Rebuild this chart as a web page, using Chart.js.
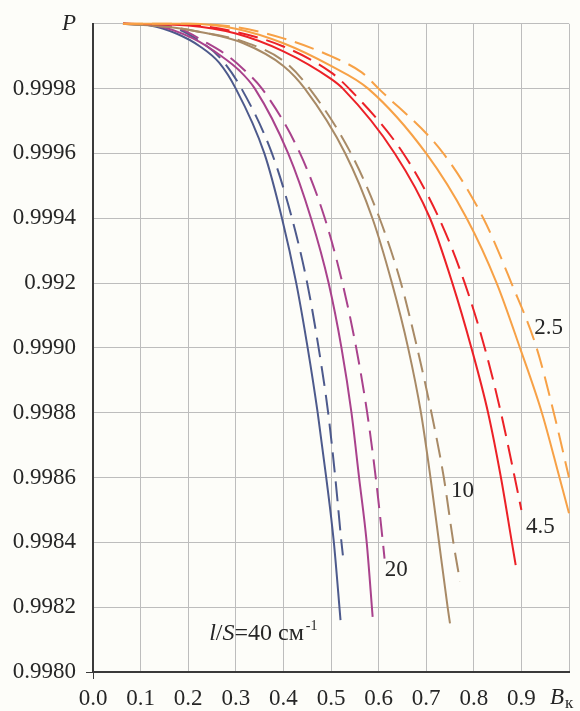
<!DOCTYPE html>
<html>
<head>
<meta charset="utf-8">
<script src="https://cdn.jsdelivr.net/npm/chart.js@4"></script>
<style>
  html, body { margin: 0; padding: 0; background: #fdfdf9; }
  canvas { display: block; }
</style>
</head>
<body>
<canvas id="chart" width="580" height="711"></canvas>
<script>
// Reliability P versus B_k for several l/S values (solid and dashed variants)
const xTickValues = [0, 0.1, 0.2, 0.3, 0.4, 0.5, 0.6, 0.7, 0.8, 0.9, 1.0];
const xTickLabels = ['0.0', '0.1', '0.2', '0.3', '0.4', '0.5', '0.6', '0.7', '0.8', '0.9', ''];
const yTickValues = [0.998, 0.9982, 0.9984, 0.9986, 0.9988, 0.999, 0.9992, 0.9994, 0.9996, 0.9998, 1.0];
const yTickLabels = ['0.9980', '0.9982', '0.9984', '0.9986', '0.9988', '0.9990', '0.992', '0.9994', '0.9996', '0.9998', 'P'];

// l/S = 40 cm^-1
const b40Solid = [0.063, 0.12, 0.175, 0.225, 0.265, 0.300, 0.360, 0.397, 0.427, 0.451, 0.472, 0.490, 0.506, 0.520];
const p40Solid = [1.0, 0.999995, 0.99997, 0.99993, 0.99988, 0.9998, 0.9996, 0.9994, 0.9992, 0.9990, 0.9988, 0.9986, 0.9984, 0.99816];
const b40Dash  = [0.063, 0.15, 0.231, 0.27, 0.312, 0.376, 0.418, 0.450, 0.474, 0.494, 0.509, 0.522, 0.525];
const p40Dash  = [1.0, 0.999995, 0.99994, 0.99989, 0.9998, 0.9996, 0.9994, 0.9992, 0.9990, 0.9988, 0.9986, 0.9984, 0.99836];
// l/S = 20
const b20Solid = [0.063, 0.13, 0.21, 0.27, 0.308, 0.340, 0.410, 0.458, 0.495, 0.522, 0.543, 0.559, 0.575, 0.5875];
const p20Solid = [1.0, 0.999995, 0.999955, 0.9999, 0.999855, 0.9998, 0.9996, 0.9994, 0.9992, 0.9990, 0.9988, 0.9986, 0.9984, 0.99817];
const b20Dash  = [0.063, 0.17, 0.24, 0.284, 0.316, 0.355, 0.435, 0.487, 0.524, 0.553, 0.576, 0.594, 0.609, 0.6125];
const p20Dash  = [1.0, 0.99999, 0.99994, 0.9999, 0.99986, 0.9998, 0.9996, 0.9994, 0.9992, 0.9990, 0.9988, 0.9986, 0.9984, 0.99835];
// l/S = 10
const b10Solid = [0.063, 0.16, 0.225, 0.316, 0.400, 0.445, 0.530, 0.587, 0.628, 0.662, 0.689, 0.709, 0.727, 0.745, 0.750];
const p10Solid = [1.0, 0.99999, 0.999975, 0.99994, 0.99987, 0.9998, 0.9996, 0.9994, 0.9992, 0.9990, 0.9988, 0.9986, 0.9984, 0.9982, 0.99815];
const b10Dash  = [0.063, 0.16, 0.225, 0.316, 0.405, 0.455, 0.542, 0.602, 0.647, 0.681, 0.711, 0.737, 0.757, 0.771];
const p10Dash  = [1.0, 0.99999, 0.999975, 0.999945, 0.99988, 0.9998, 0.9996, 0.9994, 0.9992, 0.9990, 0.9988, 0.9986, 0.9984, 0.99828];
// l/S = 4.5
const b45Solid = [0.063, 0.2, 0.3, 0.40, 0.50, 0.525, 0.634, 0.708, 0.755, 0.795, 0.830, 0.857, 0.880, 0.888];
const p45Solid = [1.0, 0.999995, 0.99997, 0.999915, 0.99983, 0.9998, 0.9996, 0.9994, 0.9992, 0.9990, 0.9988, 0.9986, 0.9984, 0.99833];
const b45Dash  = [0.063, 0.2, 0.3, 0.40, 0.50, 0.538, 0.652, 0.727, 0.781, 0.823, 0.857, 0.886, 0.900];
const p45Dash  = [1.0, 0.999997, 0.999975, 0.99993, 0.99985, 0.9998, 0.9996, 0.9994, 0.9992, 0.9990, 0.9988, 0.9986, 0.9985];
// l/S = 2.5
const b25Solid = [0.063, 0.2, 0.3, 0.4, 0.5, 0.578, 0.700, 0.785, 0.848, 0.897, 0.943, 0.980, 1.0];
const p25Solid = [1.0, 1.0, 0.999985, 0.99994, 0.99987, 0.9998, 0.9996, 0.9994, 0.9992, 0.9990, 0.9988, 0.9986, 0.99849];
const b25Dash  = [0.063, 0.2, 0.3, 0.4, 0.5, 0.5645, 0.600, 0.736, 0.820, 0.879, 0.932, 0.968, 1.0];
const p25Dash  = [1.0, 1.0, 0.99999, 0.999955, 0.9999, 0.99985, 0.9998, 0.9996, 0.9994, 0.9992, 0.9990, 0.9988, 0.9986];

const SERIF = '"Liberation Serif", "Times New Roman", serif';
const TEXT = '#262626';

function pts(bs, ps) { return bs.map((b, i) => ({ x: b, y: ps[i] })); }
function series(bs, ps, color, dashed) {
  return {
    data: pts(bs, ps),
    borderColor: color,
    borderWidth: 2,
    borderDash: dashed ? [20, 9] : [],
    pointRadius: 0,
    fill: false,
    cubicInterpolationMode: 'monotone',
    clip: false
  };
}

const NAVY = '#4d5a8c', PURPLE = '#a9428c', TAN = '#a88a66', RED = '#ec2127', ORANGE = '#f7a146';

const datasets = [
  series(b25Solid, p25Solid, ORANGE, false),
  series(b25Dash,  p25Dash,  ORANGE, true),
  series(b45Solid, p45Solid, RED, false),
  series(b45Dash,  p45Dash,  RED, true),
  series(b10Solid, p10Solid, TAN, false),
  series(b10Dash,  p10Dash,  TAN, true),
  series(b20Solid, p20Solid, PURPLE, false),
  series(b20Dash,  p20Dash,  PURPLE, true),
  series(b40Solid, p40Solid, NAVY, false),
  series(b40Dash,  p40Dash,  NAVY, true)
];

// paper-coloured background
const paper = {
  id: 'paper',
  beforeDraw(chart) {
    const c = chart.ctx;
    c.save();
    c.fillStyle = '#fdfdf9';
    c.fillRect(0, 0, chart.width, chart.height);
    c.restore();
  }
};

// curve captions and the B_k axis title
const captions = {
  id: 'captions',
  afterDraw(chart) {
    const c = chart.ctx, xs = chart.scales.x, ys = chart.scales.y;
    c.save();
    c.fillStyle = TEXT;
    c.textBaseline = 'middle';
    c.textAlign = 'center';
    c.font = '23px ' + SERIF;
    [['2.5', 0.957, 0.999062], ['4.5', 0.940, 0.998449], ['10', 0.776, 0.998560], ['20', 0.637, 0.998314]]
      .forEach(([t, b, p]) => c.fillText(t, xs.getPixelForValue(b), ys.getPixelForValue(p)));

    // l/S=40 см^-1
    c.textAlign = 'left';
    let x = xs.getPixelForValue(0.244);
    const y = ys.getPixelForValue(0.998117);
    const parts = [
      ['l', 'italic 24px '], ['/', '24px '], ['S', 'italic 24px '], ['=40 см', '24px ']
    ];
    parts.forEach(([t, f]) => { c.font = f + SERIF; c.fillText(t, x, y); x += c.measureText(t).width; });
    c.font = '14px ' + SERIF;
    c.fillText('-1', x + 2, y - 8);

    // axis title B_к at the 1.0 position
    const bx = xs.getPixelForValue(1.0);
    const by = chart.chartArea.bottom + 26;
    c.font = 'italic 23px ' + SERIF;
    c.fillText('B', bx - 19, by);
    const bw = c.measureText('B').width;
    c.font = '17px ' + SERIF;
    c.fillText('к', bx - 18 + bw, by + 6);
    c.restore();
  }
};

new Chart(document.getElementById('chart'), {
  type: 'line',
  data: { datasets },
  plugins: [paper, captions],
  options: {
    responsive: false,
    animation: false,
    devicePixelRatio: 1,
    layout: { padding: { top: 22, right: 11, left: 0, bottom: 0 } },
    plugins: { legend: { display: false }, tooltip: { enabled: false } },
    scales: {
      x: {
        type: 'linear',
        min: 0, max: 1,
        afterBuildTicks(scale) { scale.ticks = xTickValues.map(v => ({ value: v })); },
        afterFit(scale) { scale.height = 39; },
        border: { display: true, color: '#3a3a3a', width: 2 },
        grid: {
          color: '#bdbdbd', lineWidth: 1, tickLength: 7,
          tickColor: ctx => ctx.index === 0 ? '#3a3a3a' : 'rgba(0,0,0,0)'
        },
        ticks: {
          padding: 6, color: TEXT, maxRotation: 0, autoSkip: false,
          font: { family: SERIF, size: 23 },
          callback: (v, i) => xTickLabels[i]
        }
      },
      y: {
        type: 'linear',
        min: 0.998, max: 1.0,
        afterBuildTicks(scale) { scale.ticks = yTickValues.map(v => ({ value: v })); },
        afterFit(scale) { scale.width = 93; },
        border: { display: true, color: '#3a3a3a', width: 2 },
        grid: {
          color: '#bdbdbd', lineWidth: 1, tickLength: 7,
          tickColor: ctx => ctx.index === 0 ? '#3a3a3a' : 'rgba(0,0,0,0)'
        },
        ticks: {
          padding: 10, color: TEXT, autoSkip: false,
          font: ctx => ({ family: SERIF, size: 23, style: ctx.index === yTickLabels.length - 1 ? 'italic' : 'normal' }),
          callback: (v, i) => yTickLabels[i]
        }
      }
    }
  }
});
</script>
</body>
</html>
